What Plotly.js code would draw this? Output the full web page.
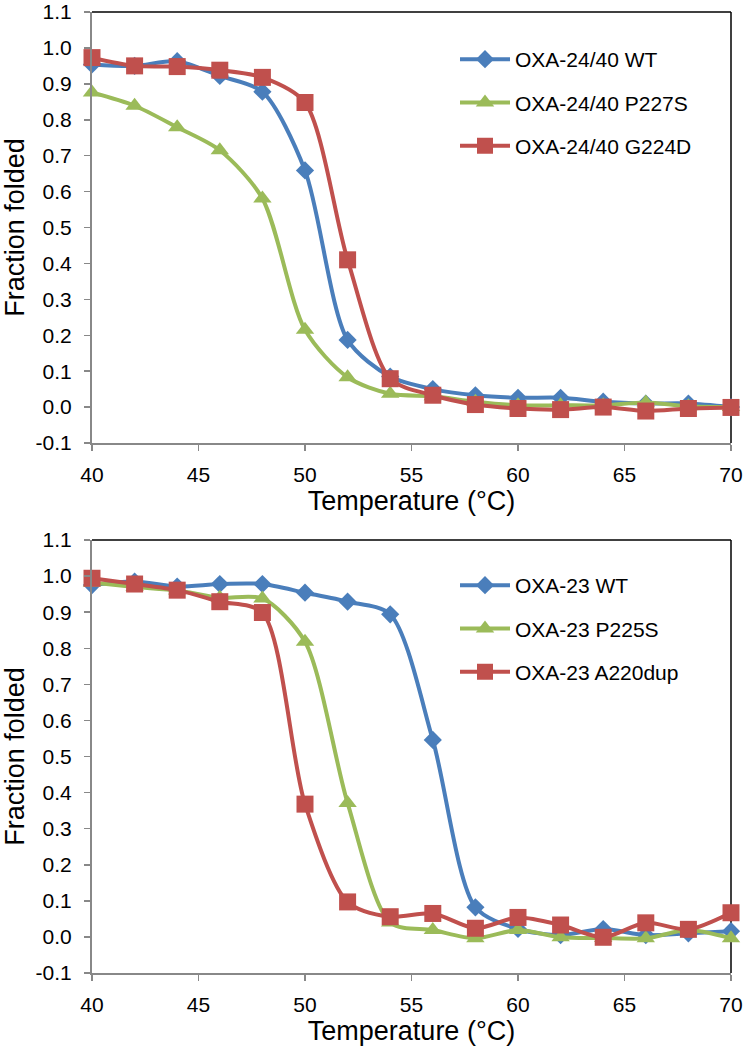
<!DOCTYPE html>
<html>
<head>
<meta charset="utf-8">
<script src="https://cdn.plot.ly/plotly-3.0.1.min.js"></script>
<style>
  html, body { margin: 0; padding: 0; background: #fff; }
  #chart { width: 745px; height: 1050px; }
</style>
</head>
<body>
<div id="chart"></div>
<script>
// ---- Data ----
const temperature = [40, 42, 44, 46, 48, 50, 52, 54, 56, 58, 60, 62, 64, 66, 68, 70];

// Top panel: OXA-24/40
const oxa2440Names = ["OXA-24/40 WT", "OXA-24/40 P227S", "OXA-24/40 G224D"];
const oxa2440WT    = [0.954, 0.950, 0.963, 0.922, 0.878, 0.659, 0.187, 0.085, 0.050, 0.033, 0.026, 0.026, 0.015, 0.010, 0.010, 0.000];
const oxa2440P227S = [0.876, 0.839, 0.779, 0.715, 0.581, 0.215, 0.083, 0.037, 0.030, 0.015, 0.005, 0.005, 0.005, 0.013, 0.002, 0.000];
const oxa2440G224D = [0.973, 0.950, 0.948, 0.938, 0.918, 0.848, 0.410, 0.079, 0.033, 0.007, -0.004, -0.007, 0.000, -0.011, -0.004, -0.001];

// Bottom panel: OXA-23
const oxa23Names   = ["OXA-23 WT", "OXA-23 P225S", "OXA-23 A220dup"];
const oxa23WT      = [0.975, 0.985, 0.971, 0.978, 0.978, 0.954, 0.929, 0.894, 0.546, 0.082, 0.022, 0.005, 0.022, 0.005, 0.010, 0.016];
const oxa23P225S   = [0.982, 0.970, 0.960, 0.940, 0.938, 0.818, 0.371, 0.040, 0.019, -0.004, 0.019, -0.001, -0.003, -0.004, 0.019, -0.004];
const oxa23A220dup = [0.994, 0.978, 0.961, 0.929, 0.899, 0.368, 0.097, 0.056, 0.065, 0.024, 0.054, 0.033, -0.001, 0.039, 0.021, 0.067];

// Ticks
const xTickVals = [40, 45, 50, 55, 60, 65, 70];
const yTickVals = [-0.1, 0, 0.1, 0.2, 0.3, 0.4, 0.5, 0.6, 0.7, 0.8, 0.9, 1.0, 1.1];
const yTickText = ["-0.1", "0.0", "0.1", "0.2", "0.3", "0.4", "0.5", "0.6", "0.7", "0.8", "0.9", "1.0", "1.1"];
const xTitle = "Temperature (°C)";
const yTitle = "Fraction folded";

// ---- Styles ----
const colors = ["#4A7EBB", "#9BBB59", "#C0504D"];
const symbols = ["diamond", "triangle-up", "square"];
const markerSizes = [14, 16, 17];

function makeTrace(x, y, name, i, xa, ya, legend) {
  return {
    x: x, y: y, name: name, type: "scatter", mode: "lines+markers",
    xaxis: xa, yaxis: ya, legend: legend, legendgroup: legend + i,
    line: { color: colors[i], width: 4, shape: "spline", smoothing: 0.8 },
    marker: { symbol: symbols[i], size: markerSizes[i], color: colors[i],
              line: { width: 0 } },
    cliponaxis: false
  };
}

const traces = [
  makeTrace(temperature, oxa2440WT, oxa2440Names[0], 0, "x", "y", "legend"),
  makeTrace(temperature, oxa2440P227S, oxa2440Names[1], 1, "x", "y", "legend"),
  makeTrace(temperature, oxa2440G224D, oxa2440Names[2], 2, "x", "y", "legend"),
  makeTrace(temperature, oxa23WT, oxa23Names[0], 0, "x2", "y2", "legend2"),
  makeTrace(temperature, oxa23P225S, oxa23Names[1], 1, "x2", "y2", "legend2"),
  makeTrace(temperature, oxa23A220dup, oxa23Names[2], 2, "x2", "y2", "legend2")
];

const FAM = "Liberation Sans, Arial, Helvetica, sans-serif";
const W = 745, H = 1050;
const xDom = [92 / W, 731 / W];

function xAxis(anchor) {
  return {
    domain: xDom, anchor: anchor, range: [40, 70],
    tickvals: xTickVals, ticks: "outside", ticklen: 6, tickwidth: 1.5, tickcolor: "#888",
    showline: true, linecolor: "#888", linewidth: 2, showgrid: false, zeroline: false,
    ticklabelstandoff: 6, ticklabeloverflow: "allow",
    tickfont: { size: 21, family: FAM, color: "#000" },
    title: { text: xTitle, font: { size: 27, family: FAM, color: "#000" }, standoff: 4 }
  };
}
function yAxis(anchor, dom) {
  return {
    domain: dom, anchor: anchor, range: [-0.1, 1.1],
    tickvals: yTickVals, ticktext: yTickText, ticks: "outside", ticklen: 6, tickwidth: 1.5, tickcolor: "#888",
    showline: true, linecolor: "#888", linewidth: 2, showgrid: false, zeroline: false,
    ticklabelstandoff: 8, ticklabeloverflow: "allow",
    tickfont: { size: 21, family: FAM, color: "#000" },
    title: { text: yTitle, font: { size: 27, family: FAM, color: "#000" }, standoff: 8 }
  };
}

const topDom = [1 - 443 / H, 1 - 12 / H];
const botDom = [1 - 973 / H, 1 - 540 / H];

function borderShapes(xr, yr) {
  return [
    { type: "line", xref: xr + " domain", yref: yr + " domain", x0: 0, x1: 1, y0: 1, y1: 1,
      line: { color: "#000", width: 1.5 }, layer: "below" },
    { type: "line", xref: xr + " domain", yref: yr + " domain", x0: 1, x1: 1, y0: 0, y1: 1,
      line: { color: "#000", width: 1.5 }, layer: "below" }
  ];
}

function legendOpts(yTop) {
  return {
    x: 455 / W, y: yTop, xanchor: "left", yanchor: "top",
    bgcolor: "rgba(0,0,0,0)", borderwidth: 0,
    font: { size: 21, family: FAM, color: "#000" },
    itemwidth: 50, tracegroupgap: 13, traceorder: "grouped"
  };
}

const layout = {
  width: W, height: H,
  margin: { l: 0, r: 0, t: 0, b: 0 },
  paper_bgcolor: "#fff", plot_bgcolor: "#fff",
  font: { family: FAM, color: "#000" },
  showlegend: true,
  xaxis: xAxis("y"),
  yaxis: yAxis("x", topDom),
  xaxis2: xAxis("y2"),
  yaxis2: yAxis("x2", botDom),
  legend: legendOpts(1 - 39 / H),
  legend2: legendOpts(1 - 565 / H),
  shapes: borderShapes("x", "y").concat(borderShapes("x2", "y2"))
};

Plotly.newPlot("chart", traces, layout, { displayModeBar: false, staticPlot: true });
</script>
</body>
</html>
